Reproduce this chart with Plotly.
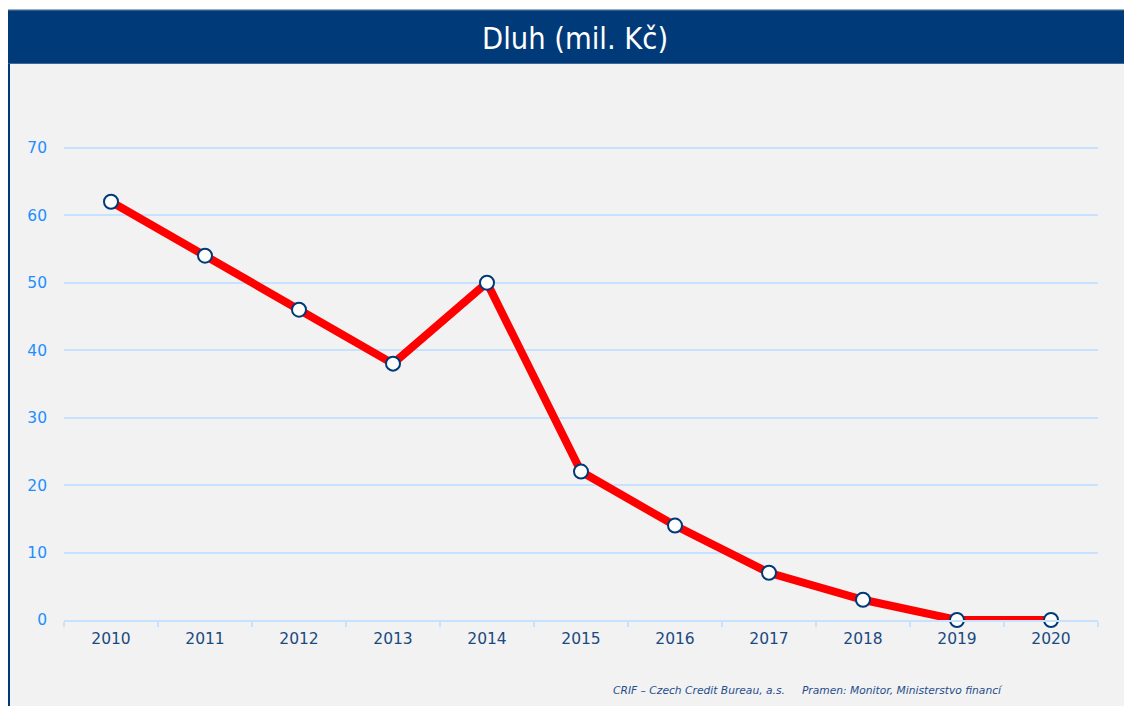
import plotly.graph_objects as go

years = ["2010", "2011", "2012", "2013", "2014", "2015", "2016", "2017", "2018", "2019", "2020"]
dluh = [62, 54, 46, 38, 50, 22, 14, 7, 3, 0, 0]
y_ticks = [0, 10, 20, 30, 40, 50, 60, 70]

W, H = 1132, 706
OFF = 8  # page body margin
# plot area in screen pixels (reference)
SL, SR, S0, S70 = 64, 1098, 620, 148
unit = (S0 - S70) / 70.0
YMAX = 71
L, R = SL - OFF, SR - OFF
B = S0 - OFF
T = B - YMAX * unit

def px(x):
    return (x - OFF - L) / (R - L)

def py(y):
    return (B - (y - OFF)) / (B - T)

fig = go.Figure()
fig.add_trace(go.Scatter(
    x=years, y=dluh, mode="lines+markers",
    line=dict(color="#FF0000", width=8),
    marker=dict(size=14, color="white", line=dict(color="#003A78", width=2)),
    cliponaxis=False, hoverinfo="x+y", showlegend=False,
))

shapes = [
    dict(type="rect", xref="paper", yref="paper", x0=px(0), x1=px(1160), y0=py(720), y1=py(10),
         fillcolor="#F2F2F2", line=dict(width=0), layer="below"),
    dict(type="rect", xref="paper", yref="paper", x0=px(0), x1=px(1160), y0=py(64), y1=py(10),
         fillcolor="#003A78", line=dict(width=0), layer="below"),
    dict(type="line", xref="paper", yref="paper", x0=px(0), x1=px(1160), y0=py(10.5), y1=py(10.5),
         line=dict(color="#4A6E98", width=1), layer="below"),
    dict(type="line", xref="paper", yref="paper", x0=px(8.5), x1=px(8.5), y0=py(720), y1=py(64),
         line=dict(color="#003A78", width=3), layer="below"),
]

fig.update_layout(
    width=W, height=H,
    margin=dict(l=L, r=W - R, t=T, b=H - B, pad=0),
    paper_bgcolor="white", plot_bgcolor="rgba(0,0,0,0)",
    font=dict(family="DejaVu Sans, Verdana, sans-serif"),
    shapes=shapes,
    xaxis=dict(
        type="category", range=[-0.5, 10.5], tickson="boundaries",
        ticks="outside", ticklen=5, tickwidth=2, tickcolor="#C6E2FF",
        showline=True, linecolor="#C6E2FF", linewidth=2,
        showgrid=False, zeroline=False,
        tickfont=dict(size=15.5, color="#1A4A80"),
        ticklabelstandoff=3,
    ),
    yaxis=dict(
        range=[0, YMAX], tickvals=y_ticks, showgrid=True, gridcolor="#C6E2FF", gridwidth=2,
        zeroline=False, showline=False, ticks="",
        tickfont=dict(size=15.5, color="#1E8FFF"),
        ticklabelstandoff=16,
    ),
    annotations=[
        dict(text="Dluh (mil. Kč)", xref="paper", yref="paper", x=px(575), y=py(39),
             xanchor="center", yanchor="middle", showarrow=False,
             font=dict(size=30.5, color="white", family="DejaVu Sans Condensed, DejaVu Sans, sans-serif")),
        dict(text="<i>CRIF – Czech Credit Bureau, a.s.     Pramen: Monitor, Ministerstvo financí</i>",
             xref="paper", yref="paper", x=px(611), y=py(690),
             xanchor="left", yanchor="middle", showarrow=False,
             font=dict(size=10.7, color="#1F4E8C")),
    ],
)

fig.write_html("out.html")
